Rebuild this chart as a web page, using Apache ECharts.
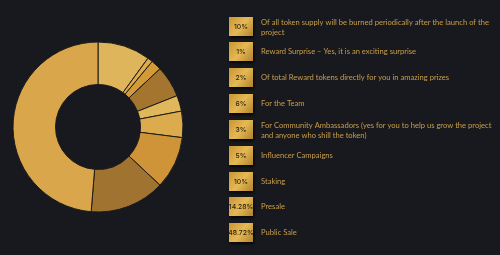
<!DOCTYPE html>
<html><head><meta charset="utf-8">
<script src="https://cdn.jsdelivr.net/npm/echarts@6/dist/echarts.min.js"></script>
<style>html,body{margin:0;padding:0;background:#18191e;}#c{width:500px;height:255px;}</style>
</head><body><div id="c"></div>
<script>
const percentLabels = ['10%','1%','2%','6%','3%','5%','10%','14.28%','48.72%'];
const values = [10, 1, 2, 6, 3, 5, 10, 14.28, 48.72];
const descriptions = [
  'Of all token supply will be burned periodically after the launch of the\nproject',
  'Reward Surprise – Yes, it is an exciting surprise',
  'Of total Reward tokens directly for you in amazing prizes',
  'For the Team',
  'For Community Ambassadors (yes for you to help us grow the project\nand anyone who shill the token)',
  'Influencer Campaigns',
  'Staking',
  'Presale',
  'Public Sale'
];
const sliceColors = ['#dfb55b','#dcab4c','#d39a38','#a3752f','#e1b75c','#dcab4e','#cf9437','#a17330','#d9a64c'];
const rowTops = [17, 42, 68, 94, 120, 146, 172, 197, 223];

const chart = echarts.init(document.getElementById('c'), null, {renderer:'canvas'});
const graphics = [];
percentLabels.forEach((p, i) => {
  const y = rowTops[i];
  graphics.push({
    type:'rect', shape:{x:229, y:y, width:24, height:19},
    style:{
      fill:new echarts.graphic.LinearGradient(0,0,1,1,[
        {offset:0,color:'#c99634'},{offset:0.5,color:'#e5b955'},{offset:1,color:'#b0822c'}
      ]),
      shadowColor:'rgba(0,0,0,0.8)', shadowBlur:3, shadowOffsetX:1, shadowOffsetY:2
    }
  });
  graphics.push({
    type:'text', x:241, y:y+9.5,
    style:{text:p, fill:'#2a1e0c', font:'500 6.8px Inter', align:'center', verticalAlign:'middle'}
  });
  graphics.push({
    type:'text', x:261, y:y+(descriptions[i].indexOf('\n')>=0 ? 1 : 5),
    style:{text:descriptions[i], fill:'#c89e4b', font:'7.6px Lato', lineHeight:9.5, verticalAlign:'top'}
  });
});

chart.setOption({
  backgroundColor:'#18191e',
  animation:false,
  graphic: graphics,
  series:[{
    type:'pie',
    center:[98,127],
    radius:[42.5,85],
    startAngle:90,
    clockwise:true,
    label:{show:false},
    labelLine:{show:false},
    emphasis:{disabled:true},
    itemStyle:{borderColor:'#1c1b1a', borderWidth:1},
    data: values.map((v,i)=>({value:v, name:percentLabels[i], itemStyle:{color:sliceColors[i]}}))
  }]
});
</script></body></html>
